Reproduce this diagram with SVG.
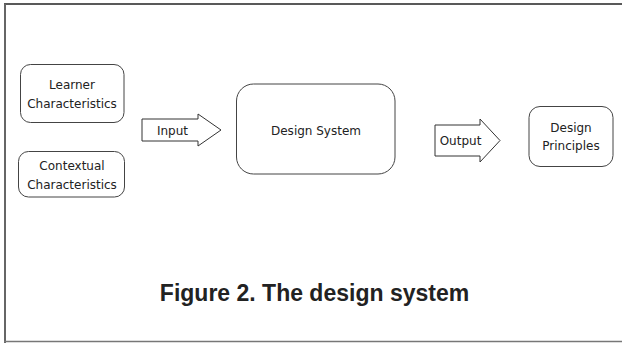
<svg xmlns="http://www.w3.org/2000/svg" width="622" height="343" viewBox="0 0 622 343">
<style>
.box{fill:#fff;stroke:#444;stroke-width:1}
.arrow{fill:#fff;stroke:#333;stroke-width:1}
.lbl{font-family:"DejaVu Sans",Verdana,sans-serif;font-size:12px;fill:#222;text-anchor:middle}
.cap{font-family:"Liberation Sans",Arial,sans-serif;font-size:23px;font-weight:bold;fill:#222;text-anchor:middle}
</style>
<rect x="0" y="0" width="622" height="343" fill="#fff"/>
<g id="frame">
<line x1="4" y1="4" x2="622" y2="4" stroke="#222" stroke-width="1.5"/>
<line x1="5" y1="4" x2="5" y2="343" stroke="#666" stroke-width="2"/>
<line x1="4" y1="341.5" x2="622" y2="341.5" stroke="#777" stroke-width="1.5"/>
</g>
<g id="learner">
<rect class="box" x="20.5" y="64.5" width="103.5" height="58" rx="10"/>
<text class="lbl" x="72" y="89">Learner</text>
<text class="lbl" x="72" y="108">Characteristics</text>
</g>
<g id="contextual">
<rect class="box" x="18.5" y="151.5" width="106" height="45.5" rx="10"/>
<text class="lbl" x="72" y="170">Contextual</text>
<text class="lbl" x="72" y="188.5">Characteristics</text>
</g>
<g id="design-system">
<rect class="box" x="236.5" y="84" width="158.5" height="90" rx="17"/>
<text class="lbl" x="316" y="134.5">Design System</text>
</g>
<g id="design-principles">
<rect class="box" x="529" y="106.5" width="84" height="60" rx="11"/>
<text class="lbl" x="571" y="131.5">Design</text>
<text class="lbl" x="571" y="150">Principles</text>
</g>
<g id="connectors">
<g id="input-arrow">
<polygon class="arrow" points="142,119 198,119 198,114 221,130 198,146 198,141 142,141"/>
<text class="lbl" x="172.5" y="135">Input</text>
</g>
<g id="output-arrow">
<polygon class="arrow" points="435,125 480,125 480,119 500,140.5 480,162 480,156 435,156"/>
<text class="lbl" x="460.5" y="145">Output</text>
</g>
</g>
<g id="caption">
<text class="cap" x="314.5" y="301">Figure 2. The design system</text>
</g>
</svg>
